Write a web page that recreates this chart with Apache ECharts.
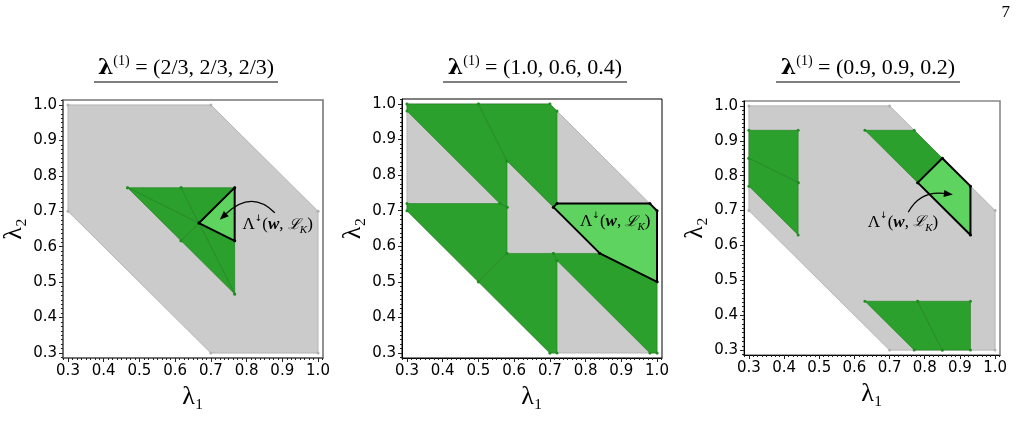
<!DOCTYPE html>
<html><head><meta charset="utf-8">
<script src="https://cdn.jsdelivr.net/npm/echarts@6/dist/echarts.min.js"></script>
<style>html,body{margin:0;padding:0;background:#fff}#c{width:1021px;height:442px}</style>
</head><body><div id="c"></div>
<script>
// ---------- data ----------
const tickValues = [0.3, 0.4, 0.5, 0.6, 0.7, 0.8, 0.9, 1.0];
const titles = ['(2/3, 2/3, 2/3)', '(1.0, 0.6, 0.4)', '(0.9, 0.9, 0.2)'];

const hexagon = [[0.3, 1.0], [0.7, 1.0], [1.0, 0.7], [1.0, 0.3], [0.7, 0.3], [0.3, 0.7]];

const p1Dark = [
  [[0.4667, 0.7667], [0.6167, 0.7667], [0.6667, 0.6667]],
  [[0.6167, 0.7667], [0.7667, 0.7667], [0.6667, 0.6667]],
  [[0.6667, 0.6667], [0.7667, 0.6167], [0.7667, 0.4667]],
  [[0.6667, 0.6667], [0.7667, 0.4667], [0.6167, 0.6167]],
  [[0.4667, 0.7667], [0.6667, 0.6667], [0.6167, 0.6167]]
];
const p1Light = [[0.6667, 0.6667], [0.7667, 0.7667], [0.7667, 0.6167]];

const p2Dark = [
  [[0.3, 1.0], [0.5, 1.0], [0.58, 0.84], [0.58, 0.71], [0.56, 0.72], [0.3, 0.98]],
  [[0.5, 1.0], [0.7, 1.0], [0.72, 0.98], [0.72, 0.72], [0.71, 0.71], [0.58, 0.84]],
  [[0.3, 0.72], [0.56, 0.72], [0.58, 0.71], [0.58, 0.58], [0.5, 0.5], [0.3, 0.7]],
  [[0.5, 0.5], [0.58, 0.58], [0.71, 0.58], [0.72, 0.56], [0.72, 0.3], [0.7, 0.3]],
  [[0.71, 0.58], [0.84, 0.58], [1.0, 0.5], [1.0, 0.3], [0.98, 0.3], [0.72, 0.56]]
];
const p2Light = [[0.71, 0.71], [0.72, 0.72], [0.98, 0.72], [1.0, 0.7], [1.0, 0.5], [0.84, 0.58]];

const p3Dark = [
  [[0.3, 0.93], [0.44, 0.93], [0.44, 0.78], [0.3, 0.85]],
  [[0.3, 0.85], [0.44, 0.78], [0.44, 0.63], [0.3, 0.77]],
  [[0.63, 0.93], [0.77, 0.93], [0.85, 0.85], [0.78, 0.78]],
  [[0.63, 0.44], [0.78, 0.44], [0.85, 0.3], [0.77, 0.3]],
  [[0.78, 0.44], [0.93, 0.44], [0.93, 0.3], [0.85, 0.3]]
];
const p3Light = [[0.78, 0.78], [0.85, 0.85], [0.93, 0.77], [0.93, 0.63]];

// annotation anchors (data coords): text centre, arrow [tail, control, tip]
const p1Text = [0.887, 0.662];
const p1Arrow = [[0.879, 0.696], [0.814, 0.761], [0.725, 0.676]];
const p2Text = [0.883, 0.669];
const p3Text = [0.738, 0.666];
const p3Arrow = [[0.753, 0.695], [0.786, 0.757], [0.880, 0.746]];

// ---------- styling ----------
const GRAY_FILL = '#cbcbcb', GRAY_EDGE = '#b5b5b5';
const DARK = '#2ca02c', DARK_EDGE = '#1f7f1f';
const LIGHT = '#5fd35f';
const AXMIN = 0.286, AXMAX = 1.014;

const minorValues = [];
for (let k = 0; k <= 64; k++) { const v = 0.2875 + k * 0.0125; if (v >= AXMIN && v <= AXMAX) minorValues.push(+v.toFixed(4)); }

const chart = echarts.init(document.getElementById('c'), null, {renderer: 'canvas'});

const gridsPos = [
  {left: 63, top: 100, width: 260, height: 258, border: '#777', bw: 1.6, axis: '#666', aw: 1.6},
  {left: 402, top: 99, width: 260, height: 259, border: '#000', bw: 1, axis: '#000', aw: 1},
  {left: 744, top: 101, width: 256, height: 254, border: '#888', bw: 1.6, axis: '#000', aw: 1}
];

const grid = gridsPos.map(g => ({left: g.left, top: g.top, width: g.width, height: g.height,
  show: true, borderColor: g.border, borderWidth: g.bw, backgroundColor: 'transparent', containLabel: false}));

const labelStyle = {fontFamily: 'DejaVu Sans', fontSize: 15, color: '#000'};
const nameStyle = {fontFamily: 'Liberation Serif', fontSize: 26, color: '#000'};
const xAxis = [], yAxis = [];
gridsPos.forEach((g, i) => {
  const common = {type: 'value', min: AXMIN, max: AXMAX, gridIndex: i, splitLine: {show: false}};
  xAxis.push(Object.assign({}, common, {
    position: 'bottom',
    axisLine: {show: true, onZero: false, lineStyle: {color: g.axis, width: g.aw}},
    axisTick: {show: true, inside: false, length: 4, customValues: tickValues, lineStyle: {color: '#222'}},
    axisLabel: Object.assign({show: true, customValues: tickValues, formatter: v => v.toFixed(1), margin: 6}, labelStyle),
    name: 'λ₁', nameLocation: 'middle', nameGap: 26, nameTextStyle: nameStyle
  }));
  xAxis.push(Object.assign({}, common, {
    position: 'bottom',
    axisLine: {show: false, onZero: false}, axisTick: {show: true, length: 2, customValues: minorValues, lineStyle: {color: '#222'}},
    axisLabel: {show: false}
  }));
  yAxis.push(Object.assign({}, common, {
    position: 'left',
    axisLine: {show: true, onZero: false, lineStyle: {color: g.axis, width: g.aw}},
    axisTick: {show: true, inside: false, length: 4, customValues: tickValues, lineStyle: {color: '#222'}},
    axisLabel: Object.assign({show: true, customValues: tickValues, formatter: v => v.toFixed(1), margin: 6}, labelStyle),
    name: 'λ₂', nameLocation: 'middle', nameGap: 36, nameRotate: 90, nameTextStyle: nameStyle
  }));
  yAxis.push(Object.assign({}, common, {
    position: 'left',
    axisLine: {show: false, onZero: false}, axisTick: {show: true, length: 2, customValues: minorValues, lineStyle: {color: '#222'}},
    axisLabel: {show: false}
  }));
});

function polySeries(i, polys, fill, stroke, lw, dot, z) {
  return {
    type: 'custom', coordinateSystem: 'cartesian2d', xAxisIndex: 2 * i, yAxisIndex: 2 * i, z: z, silent: true,
    data: polys.map(p => p[0]),
    renderItem: function (params, api) {
      const pts = polys[params.dataIndex].map(p => api.coord(p));
      const children = [{type: 'polygon', shape: {points: pts},
        style: {fill: fill, stroke: stroke, lineWidth: lw, lineJoin: 'round'}}];
      if (dot) pts.forEach(pt => children.push({type: 'circle', shape: {cx: pt[0], cy: pt[1], r: 1.5}, style: {fill: dot}}));
      return {type: 'group', children: children};
    }
  };
}

const annRich = {
  n: {fontFamily: 'Liberation Serif', fontSize: 17, color: '#333', lineHeight: 22, verticalAlign: 'middle'},
  s: {fontFamily: 'DejaVu Sans', fontSize: 9, color: '#333', lineHeight: 9, verticalAlign: 'top'},
  w: {fontFamily: 'Liberation Serif', fontSize: 17, fontStyle: 'italic', fontWeight: 'bold', color: '#333', lineHeight: 22},
  L: {fontFamily: 'DejaVu Serif', fontSize: 15, fontStyle: 'italic', color: '#333', lineHeight: 22},
  k: {fontFamily: 'Liberation Serif', fontSize: 11, fontStyle: 'italic', color: '#333', lineHeight: 10, verticalAlign: 'bottom'}
};
const annText = '{n|Λ}{s|↓}{n|(}{w|w}{n|, }{L|ℒ}{k|K}{n|)}';

function textSeries(i, pos) {
  return {
    type: 'custom', coordinateSystem: 'cartesian2d', xAxisIndex: 2 * i, yAxisIndex: 2 * i, z: 10, silent: true,
    data: [pos],
    renderItem: function (params, api) {
      const c = api.coord([api.value(0), api.value(1)]);
      return {type: 'text', x: c[0], y: c[1],
        style: {text: annText, rich: annRich, align: 'center', verticalAlign: 'middle'}};
    }
  };
}

function arrowSeries(i, arr) {
  return {
    type: 'custom', coordinateSystem: 'cartesian2d', xAxisIndex: 2 * i, yAxisIndex: 2 * i, z: 11, silent: true,
    data: [arr[0]],
    renderItem: function (params, api) {
      const a = api.coord(arr[0]), c = api.coord(arr[1]), t = api.coord(arr[2]);
      const ang = Math.atan2(t[1] - c[1], t[0] - c[0]);
      const L = 9, W = 3.6;
      const bx = t[0] - L * Math.cos(ang), by = t[1] - L * Math.sin(ang);
      const head = [t, [bx + W * Math.sin(ang), by - W * Math.cos(ang)], [bx - W * Math.sin(ang), by + W * Math.cos(ang)]];
      return {type: 'group', children: [
        {type: 'bezierCurve', shape: {x1: a[0], y1: a[1], x2: bx, y2: by, cpx1: c[0], cpy1: c[1]},
          style: {stroke: '#000', lineWidth: 1.3, fill: null}},
        {type: 'polygon', shape: {points: head}, style: {fill: '#000'}}
      ]};
    }
  };
}

const series = [];
const darkSets = [p1Dark, p2Dark, p3Dark];
const lightSets = [p1Light, p2Light, p3Light];
for (let i = 0; i < 3; i++) {
  series.push(polySeries(i, [hexagon], GRAY_FILL, GRAY_EDGE, 1, '#b0b0b0', 1));
  series.push(polySeries(i, darkSets[i], DARK, DARK_EDGE, 0.6, '#1f8f1f', 2));
  series.push(polySeries(i, [lightSets[i]], LIGHT, '#000', 2, '#000', 3));
}
series.push(textSeries(0, p1Text), arrowSeries(0, p1Arrow));
series.push(textSeries(1, p2Text));
series.push(textSeries(2, p3Text), arrowSeries(2, p3Arrow));

const titleCenters = [186, 535, 868];
const titleRich = {
  b: {fontFamily: 'DejaVu Serif', fontWeight: 'bold', fontSize: 22, color: '#222', lineHeight: 28},
  s: {fontFamily: 'Liberation Serif', fontSize: 14, color: '#333', lineHeight: 14, verticalAlign: 'top'},
  n: {fontFamily: 'Liberation Serif', fontSize: 22, color: '#333', lineHeight: 28}
};
const graphic = [];
titles.forEach((t, i) => {
  graphic.push({type: 'text', x: titleCenters[i], y: 68, silent: true,
    style: {text: '{b|λ}{s|(1)}{n| = ' + t + '}', rich: titleRich, align: 'center', verticalAlign: 'middle'}});
  graphic.push({type: 'line', silent: true, shape: {x1: titleCenters[i] - 92, y1: 82, x2: titleCenters[i] + 92, y2: 82},
    style: {stroke: '#000', lineWidth: 1.2}});
});
graphic.push({type: 'text', x: 1010, y: 13, silent: true,
  style: {text: '7', font: '17px "Liberation Serif"', fill: '#000', align: 'right', verticalAlign: 'middle'}});

chart.setOption({animation: false, backgroundColor: '#fff', grid, xAxis, yAxis, series, graphic});
</script></body></html>
